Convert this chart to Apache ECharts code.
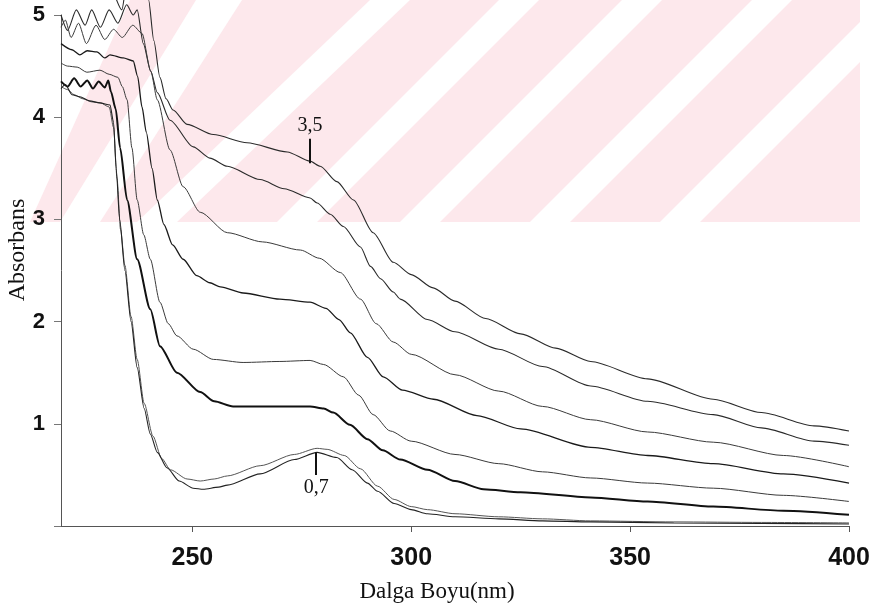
<!DOCTYPE html>
<html><head><meta charset="utf-8">
<script src="https://cdn.jsdelivr.net/npm/echarts@6/dist/echarts.min.js"></script>
<style>html,body{margin:0;padding:0;background:#fff}#c{width:878px;height:612px}</style>
</head><body><div id="c"></div>
<script>
// tick labels
const xTicks = [250, 300, 350, 400];
const yTicks = [1, 2, 3, 4, 5];

// spectra [wavelength nm, absorbance]; top (3,5) to bottom (0,7)
const curveA = [[220,5.3],[226,5.35],[231,5.3],[233.9,5.05],[235,5.3],[239.2,5.3],[240,5.15],[241.2,4.75],[242.6,4.39],[244,4.18],[245.6,4.07],[248.8,3.93],[254.8,3.83],[262.5,3.75],[271.7,3.66],[276.9,3.57],[279.2,3.52],[283,3.37],[286.8,3.19],[291.3,2.87],[295.9,2.58],[300,2.46],[305,2.33],[310,2.20],[317,2.03],[325,1.88],[333,1.74],[341,1.61],[354,1.44],[369,1.24],[380,1.11],[392,0.98],[400,0.93]];
const curveB = [[220,5.0],[221.5,4.85],[223.5,5.05],[225.5,4.9],[227,5.05],[229,4.88],[231,5.05],[233,4.92],[235,5.1],[236.5,5.0],[237.4,5.05],[238.8,4.72],[240.5,4.45],[242,4.24],[244.9,3.97],[250.2,3.71],[254,3.6],[258,3.52],[265.5,3.39],[271,3.3],[276.9,3.21],[278.5,3.16],[281.5,3.05],[284.5,2.93],[288.4,2.73],[290.7,2.54],[293,2.42],[295.9,2.29],[297.5,2.22],[303.7,2.02],[310,1.90],[320,1.73],[330,1.56],[341,1.37],[354,1.22],[369,1.09],[380,0.96],[392,0.83],[400,0.79]];
const curveC = [[220,4.88],[221,4.95],[222.3,4.78],[224,4.92],[225.8,4.72],[228,4.9],[230,4.76],[232,4.86],[234,4.78],[236.4,4.9],[238.5,4.82],[240.5,4.45],[242,4.17],[244.9,3.68],[247.9,3.32],[251.8,3.07],[258,2.87],[266,2.78],[274.7,2.70],[279,2.62],[283.8,2.48],[288.4,2.22],[292,1.98],[295.9,1.80],[300,1.68],[310,1.48],[320,1.32],[330,1.17],[341,1.04],[354,0.92],[369,0.82],[385,0.69],[400,0.58]];
const curveD = [[220,4.72],[222.5,4.66],[224.3,4.61],[226,4.65],[228.2,4.64],[230,4.58],[231.2,4.61],[234.2,4.58],[236.5,4.55],[237.5,4.4],[238.5,4.1],[239.5,3.85],[240.8,3.5],[242,3.19],[243.5,2.95],[245.5,2.75],[247.9,2.61],[251,2.45],[254,2.38],[256.4,2.34],[261.6,2.28],[270,2.22],[276.9,2.19],[280.5,2.13],[283.5,2.02],[286.1,1.89],[290,1.65],[293.6,1.46],[298,1.33],[305.1,1.24],[315,1.08],[325,0.95],[341,0.77],[354,0.69],[369,0.61],[385,0.51],[400,0.42]];
const curveE = [[220,4.53],[221.5,4.5],[223.7,4.49],[225.9,4.44],[228.9,4.46],[231,4.42],[233,4.39],[234,4.3],[235.1,4.17],[236.2,3.7],[237.4,3.19],[238.9,2.85],[240.4,2.61],[242.6,2.19],[244.5,1.98],[246.5,1.86],[250.2,1.73],[254.8,1.63],[261.6,1.60],[270,1.61],[276.9,1.62],[280,1.58],[284.5,1.46],[288,1.28],[291.3,1.09],[295.2,0.93],[300,0.83],[310,0.70],[320,0.61],[330,0.53],[341,0.47],[354,0.42],[369,0.37],[385,0.30],[400,0.24]];
const curveF = [[220,4.35],[221.5,4.30],[223,4.38],[224.5,4.30],[226,4.36],[227.3,4.28],[228.6,4.35],[230,4.29],[230.8,4.36],[231.4,4.25],[232.5,4.08],[233.5,3.7],[235.1,3.19],[237.4,2.61],[240.4,2.12],[242.6,1.76],[246.5,1.50],[251.8,1.31],[255,1.22],[259.3,1.17],[270,1.17],[276.9,1.17],[280,1.15],[282.2,1.11],[286,0.99],[290,0.85],[293.5,0.74],[297.5,0.65],[303.7,0.55],[310,0.44],[316.5,0.36],[325,0.33],[341,0.28],[354,0.24],[369,0.19],[385,0.15],[400,0.11]];
const curveG = [[220,4.30],[221.5,4.27],[223,4.22],[225,4.18],[227,4.15],[229,4.14],[231,4.10],[232,3.9],[232.8,3.4],[233.6,2.9],[234.6,2.55],[236,2.05],[237.4,1.63],[239,1.2],[241,0.88],[243,0.66],[245,0.55],[248.8,0.46],[251.8,0.44],[255,0.46],[258,0.49],[265.5,0.59],[273.3,0.70],[278.5,0.76],[280.8,0.75],[284.7,0.69],[288.4,0.56],[292.3,0.39],[296.1,0.26],[300,0.19],[303.7,0.16],[310,0.12],[320,0.09],[330,0.07],[341,0.05],[360,0.04],[380,0.035],[400,0.03]];
const curveH = [[220,4.28],[221,4.32],[222.5,4.22],[224.3,4.20],[226.5,4.16],[228.9,4.14],[231.2,4.12],[232,3.95],[232.6,3.5],[233.4,3.0],[234.6,2.5],[236,2.0],[237.4,1.55],[239,1.15],[240.4,0.9],[242,0.72],[244.2,0.57],[247,0.44],[250.2,0.37],[252.5,0.36],[256,0.38],[258,0.40],[265.5,0.51],[273.3,0.65],[278.5,0.72],[283,0.67],[286.5,0.55],[290,0.42],[292.3,0.34],[296.1,0.22],[300,0.16],[303.7,0.12],[310,0.09],[320,0.07],[330,0.05],[341,0.04],[360,0.03],[380,0.025],[400,0.02]];

// annotation markers: [wavelength, from, to, label]
const noteTop = [276.9, 3.55, 3.79, '3,5'];
const noteBottom = [278.3, 0.72, 0.50, '0,7'];

const curves = [
  {name:'A', data:curveA, w:1.1, c:'#2a2a2a'},
  {name:'B', data:curveB, w:1.1, c:'#2a2a2a'},
  {name:'C', data:curveC, w:1.0, c:'#3a3a3a'},
  {name:'D', data:curveD, w:1.3, c:'#1a1a1a'},
  {name:'E', data:curveE, w:1.0, c:'#3a3a3a'},
  {name:'F', data:curveF, w:2.0, c:'#111'},
  {name:'G', data:curveG, w:1.0, c:'#555'},
  {name:'H', data:curveH, w:1.1, c:'#222'}
];

function note(n){
  return {
    symbol:['none','none'], silent:true,
    lineStyle:{color:'#111', width:2, type:'solid'},
    label:{show:true, position:'end', formatter:n[3], fontFamily:'Liberation Serif', fontSize:20, color:'#111', distance:3},
    data:[[{coord:[n[0], n[1]]},{coord:[n[0], n[2]]}]]
  };
}

const series = curves.map(c => {
  const s = {
    type:'line', name:c.name, data:c.data, showSymbol:false, symbol:'none',
    smooth:0.25, smoothMonotone:'x', clip:false,
    lineStyle:{color:c.c, width:c.w}, z:3
  };
  if (c.name === 'A') s.markLine = note(noteTop);
  if (c.name === 'H') s.markLine = note(noteBottom);
  return s;
});

// background watermark (decoration only, pixel space)
const PINK = '#fde8ec';
const wm = [];
wm.push({type:'rect', shape:{x:0, y:0, width:860, height:222}, style:{fill:PINK}, z:-20, silent:true});
wm.push({type:'polygon', shape:{points:[[0,0],[130,0],[30,222],[0,222]]}, style:{fill:'#fff'}, z:-19, silent:true});
// white diagonal gaps: [bottom-left x, bottom-right x, top-left x, top-right x]
[[60,100,196,242],[137,177,370,410],[277,317,499,539],[400,440,622,662],[530,570,752,792],[660,700,882,922]].forEach(b => {
  wm.push({type:'polygon', shape:{points:[[b[0],222],[b[1],222],[b[3],0],[b[2],0]]}, style:{fill:'#fff'}, z:-19, silent:true});
});
wm.push({type:'rect', shape:{x:860, y:0, width:40, height:222}, style:{fill:'#fff'}, z:-19, silent:true});

const chart = echarts.init(document.getElementById('c'), null, {renderer:'canvas'});
chart.setOption({
  animation:false,
  backgroundColor:'#fff',
  grid:{left:61, right:29, top:15, bottom:86},
  xAxis:{
    type:'value', min:220, max:400,
    axisLine:{lineStyle:{color:'#555', width:1}},
    axisTick:{customValues:xTicks, length:6, lineStyle:{color:'#555'}},
    axisLabel:{customValues:xTicks, fontFamily:'Liberation Sans', fontWeight:'bold', fontSize:25, color:'#111', margin:20},
    splitLine:{show:false}
  },
  yAxis:{
    type:'value', min:0, max:5, interval:1,
    axisLine:{show:true, lineStyle:{color:'#555', width:1}},
    axisTick:{show:true, length:7, lineStyle:{color:'#777'}},
    axisLabel:{formatter:v => yTicks.includes(v) ? String(v) : '', fontFamily:'Liberation Sans', fontWeight:'bold', fontSize:22, color:'#111', margin:16},
    splitLine:{show:false}
  },
  graphic:wm.concat([
    {type:'text', x:437, y:592, style:{text:'Dalga Boyu(nm)', fontFamily:'Liberation Serif', fontSize:23, fill:'#111', textAlign:'center', textVerticalAlign:'middle'}},
    {type:'text', x:18, y:250, rotation:Math.PI/2, style:{text:'Absorbans', fontFamily:'Liberation Serif', fontSize:24, fill:'#111', textAlign:'center', textVerticalAlign:'middle'}}
  ]),
  series:series
});
</script>
</body></html>
